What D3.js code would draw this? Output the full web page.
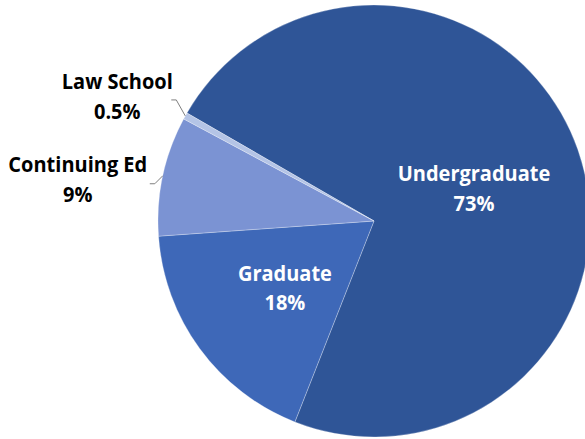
<!DOCTYPE html>
<html>
<head>
<meta charset="utf-8">
<script src="https://cdn.jsdelivr.net/npm/d3@7"></script>
<style>
  body { margin: 0; background: #fff; }
  svg text { font-family: "Open Sans", "Noto Sans", sans-serif; font-weight: bold; }
</style>
</head>
<body>
<script>
// chart data
var categories = ["Undergraduate", "Graduate", "Continuing Ed", "Law School"];
var values = [73, 18, 9, 0.5];
var valueLabels = ["73%", "18%", "9%", "0.5%"];
var colors = ["#2f5597", "#3e68b8", "#7b93d3", "#b4c4e6"];

var svgWidth = 585,
    svgHeight = 439,
    radius = 216,
    cx = 374,
    cy = 221,
    fontSize = 21.5,
    squeeze = 0.93;

var data = categories.map((c, i) => {
  return {name: c, value: values[i], label: valueLabels[i], color: colors[i], outside: values[i] < 10};
});

var svg = d3.select("body")
  .append("svg")
    .attr("width", svgWidth)
    .attr("height", svgHeight);

var chart = svg.append("g")
    .attr("transform", "translate(" + cx + "," + cy + ")");

var pie = d3.pie()
    .sort(null)
    .value((d) => {return d.value;})
    .startAngle(-Math.PI / 3)
    .endAngle(-Math.PI / 3 + 2 * Math.PI);

var arc = d3.arc().innerRadius(0).outerRadius(radius);

var arcs = pie(data);

// slices
chart.selectAll(".slice")
    .data(arcs)
    .enter()
  .append("path")
    .attr("class", "slice")
    .attr("d", arc)
    .attr("fill", (d) => {return d.data.color;})
    .attr("stroke", "#ffffff")
    .attr("stroke-opacity", 0.35)
    .attr("stroke-width", 0.8);

// label helpers
function midAngle(d) {return (d.startAngle + d.endAngle) / 2;}
function edgePoint(d, r) {
  var a = midAngle(d);
  return [Math.sin(a) * r, -Math.cos(a) * r];
}

// inside labels
var inside = chart.selectAll(".in-label")
    .data(arcs.filter((d) => {return !d.data.outside;}))
    .enter()
  .append("text")
    .attr("class", "in-label")
    .attr("fill", "#ffffff")
    .attr("font-size", fontSize)
    .attr("text-anchor", "middle")
    .attr("transform", (d) => {
      var p = edgePoint(d, radius * 0.5);
      return "translate(" + (p[0] - 2) + "," + p[1] + ") scale(" + squeeze + ",1)";
    });

inside.append("tspan").attr("x", 0).attr("dy", "-0.2em").text((d) => {return d.data.name;});
inside.append("tspan").attr("x", 0).attr("dy", "1.38em").text((d) => {return d.data.label;});

// outside labels with leader lines
var elbows = {"Law School": [-9, -16], "Continuing Ed": [-8, 8]};
var textOffsets = {"Law School": [-54, -11], "Continuing Ed": [-72, -12]};

var outside = arcs.filter((d) => {return d.data.outside;});

outside.forEach((d) => {
  var p = edgePoint(d, radius);
  var e = elbows[d.data.name];
  var elbow = [p[0] + e[0], p[1] + e[1]];
  var end = [elbow[0] - 5, elbow[1]];

  chart.append("polyline")
      .attr("points", [p, elbow, end].map((q) => {return q.join(",");}).join(" "))
      .attr("fill", "none")
      .attr("stroke", "#7f7f7f")
      .attr("stroke-width", 1);

  var t = textOffsets[d.data.name];
  var txt = chart.append("text")
      .attr("fill", "#000000")
      .attr("font-size", fontSize)
      .attr("text-anchor", "middle")
      .attr("transform", "translate(" + (end[0] + t[0]) + "," + (end[1] + t[1]) + ") scale(" + squeeze + ",1)");

  txt.append("tspan").attr("x", 0).attr("dy", 0).text(d.data.name);
  txt.append("tspan").attr("x", 0).attr("dy", "1.4em").text(d.data.label);
});
</script>
</body>
</html>
